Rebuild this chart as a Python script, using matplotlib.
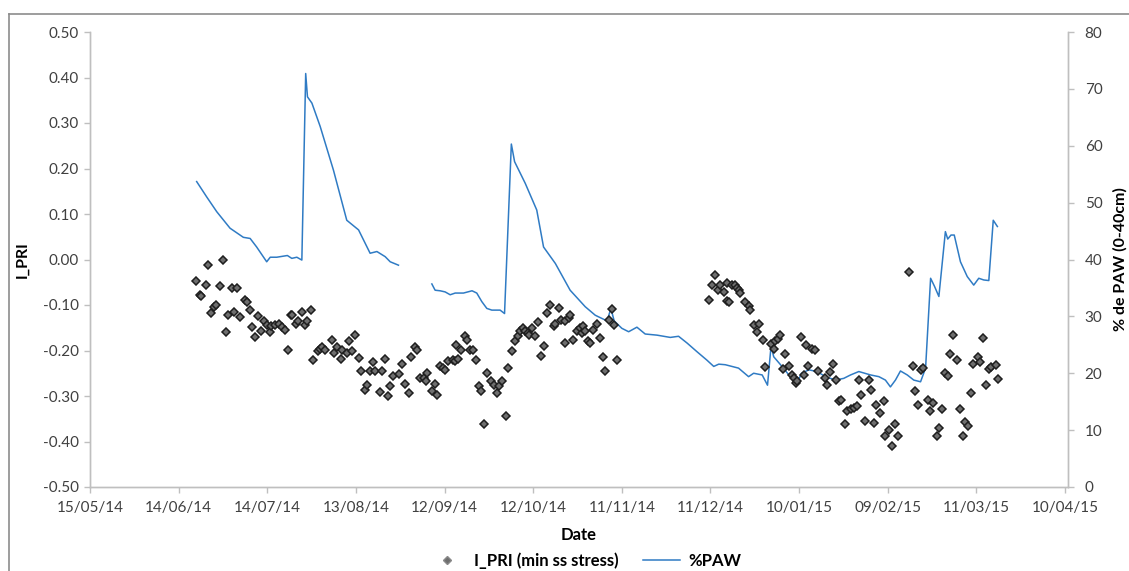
import numpy as np
import pandas as pd
import matplotlib
matplotlib.use("Agg")
import matplotlib.pyplot as plt
import matplotlib.dates as mdates
from matplotlib.lines import Line2D

plt.rcParams['font.family'] = ['Lato', 'DejaVu Sans']

start = pd.Timestamp('2014-05-15')

# I_PRI (min ss stress): day offset from 15/05/14, value
pri_day = [35.9, 37.3, 37.6, 39.2, 39.8, 41.0, 42.1, 42.7, 43.9, 44.9, 45.9, 46.8, 48.0, 48.9,
           49.9, 50.8, 52.5, 53.0, 54.0, 54.8, 55.9, 57.0, 57.9, 58.9, 59.8, 61.0, 61.3, 62.6,
           64.1, 65.1, 66.0, 66.9, 68.0, 68.5, 69.8, 70.5, 71.7, 72.8, 73.4, 74.8, 75.6, 77.0,
           77.9, 78.5, 79.6, 81.8, 82.6, 83.5, 84.9, 85.2, 86.9, 87.5, 88.6, 89.7, 90.9, 91.8,
           93.1, 93.7, 94.8, 95.7, 96.5, 98.0, 98.8, 99.9, 100.7, 101.6, 102.7, 104.6, 105.5,
           106.7, 107.8, 108.6, 110.1, 110.6, 111.8, 112.9, 113.8, 114.0, 115.7, 116.6, 117.4,
           118.3, 119.6, 120.2, 121.3, 122.8, 123.6, 124.0, 124.7, 125.6, 126.8, 127.5, 128.7,
           129.5, 130.6, 131.5, 132.4, 133.5, 134.5, 135.8, 136.9, 137.7, 138.3, 139.4, 140.8,
           141.4, 142.8, 143.7, 144.8, 145.6, 146.7, 147.3, 148.4, 148.7, 149.6, 150.7, 151.5,
           152.7, 153.5, 154.6, 155.8, 156.9, 157.5, 158.8, 159.5, 160.6, 160.9, 162.0, 162.5,
           163.6, 164.8, 165.9, 166.5, 167.0, 167.4, 168.7, 169.3, 170.4, 171.6, 172.5, 173.6,
           174.4, 175.5, 176.7, 177.4, 178.3,
           209.4, 210.5, 211.6, 212.6, 213.3, 214.5, 215.6, 215.7, 216.2, 217.4, 218.4, 219.1,
           219.5, 220.1, 221.8, 222.9, 223.5, 224.6, 225.8, 226.3, 227.7, 228.3, 230.6, 231.4,
           232.0, 232.9, 233.4, 234.4, 235.3, 236.5, 237.6, 238.2, 239.0, 239.3, 240.8, 241.5,
           242.4, 243.0, 244.2, 245.3, 246.4, 248.7, 249.5, 250.6, 251.4, 252.5, 253.4, 254.3,
           255.4, 256.2, 257.4, 258.5, 259.6, 260.2, 261.1, 262.2, 263.6, 264.4, 265.5, 266.1,
           267.4, 268.6, 269.2, 270.3, 271.5, 272.3, 273.4, 277.3, 278.5, 279.3, 280.4, 281.3,
           281.9, 283.5, 284.3, 285.2, 286.6, 287.3, 288.4, 289.5, 290.3, 291.2, 292.2, 293.4,
           294.5, 295.4, 296.3, 297.1, 298.2, 299.0, 300.5, 301.3, 302.2, 303.3, 304.4, 305.0,
           306.5, 307.2]
pri_val = [-0.048, -0.077, -0.080, -0.055, -0.013, -0.117, -0.104, -0.099, -0.059, 0.000, -0.160,
           -0.122, -0.062, -0.115, -0.062, -0.126, -0.088, -0.094, -0.110, -0.149, -0.171, -0.125,
           -0.158, -0.136, -0.143, -0.160, -0.147, -0.145, -0.142, -0.148, -0.154, -0.198, -0.121,
           -0.122, -0.141, -0.136, -0.116, -0.145, -0.136, -0.110, -0.221, -0.202, -0.196, -0.192,
           -0.199, -0.176, -0.205, -0.192, -0.218, -0.198, -0.205, -0.180, -0.201, -0.165, -0.216,
           -0.245, -0.286, -0.275, -0.245, -0.226, -0.245, -0.291, -0.245, -0.218, -0.300, -0.278,
           -0.255, -0.251, -0.229, -0.273, -0.293, -0.214, -0.192, -0.198, -0.260, -0.260, -0.267,
           -0.249, -0.289, -0.273, -0.297, -0.235, -0.238, -0.242, -0.223, -0.220, -0.223, -0.187,
           -0.218, -0.199, -0.169, -0.176, -0.199, -0.199, -0.220, -0.277, -0.289, -0.361, -0.249,
           -0.267, -0.275, -0.293, -0.278, -0.267, -0.343, -0.238, -0.200, -0.180, -0.169, -0.158,
           -0.150, -0.158, -0.161, -0.165, -0.150, -0.169, -0.138, -0.211, -0.190, -0.117, -0.101,
           -0.147, -0.141, -0.106, -0.132, -0.183, -0.136, -0.128, -0.121, -0.176, -0.158, -0.150,
           -0.161, -0.147, -0.158, -0.180, -0.183, -0.155, -0.141, -0.172, -0.214, -0.245, -0.133,
           -0.108, -0.143, -0.220,
           -0.090, -0.055, -0.035, -0.067, -0.055, -0.072, -0.092, -0.051, -0.094, -0.055, -0.055,
           -0.062, -0.066, -0.073, -0.094, -0.103, -0.110, -0.145, -0.160, -0.141, -0.177, -0.236,
           -0.185, -0.196, -0.180, -0.174, -0.167, -0.240, -0.207, -0.233, -0.253, -0.260, -0.271,
           -0.267, -0.171, -0.253, -0.187, -0.233, -0.196, -0.199, -0.245, -0.260, -0.275, -0.248,
           -0.229, -0.265, -0.311, -0.308, -0.362, -0.333, -0.328, -0.326, -0.322, -0.264, -0.297,
           -0.356, -0.264, -0.287, -0.360, -0.319, -0.338, -0.311, -0.387, -0.374, -0.409, -0.361,
           -0.387, -0.028, -0.233, -0.289, -0.319, -0.243, -0.238, -0.308, -0.333, -0.315, -0.389,
           -0.370, -0.328, -0.249, -0.256, -0.207, -0.165, -0.220, -0.328, -0.387, -0.358, -0.366,
           -0.293, -0.229, -0.214, -0.226, -0.172, -0.275, -0.240, -0.236, -0.231, -0.262]

# %PAW (0-40cm): day offset, value; NaN marks the gap in the record
paw_day = [36.1, 39.5, 42.9, 47.4, 51.9, 54.2, 56.4, 59.8, 61.0, 63.2, 66.8, 68.3, 70.0, 71.7,
           73.0, 73.6, 75.1, 77.9, 82.4, 86.9, 90.9, 94.8, 97.1, 99.9, 101.6, 104.4,
           110.0,
           115.7, 116.8, 118.5, 120.2, 121.9, 123.6, 126.4, 129.3, 130.9, 132.6, 134.3, 136.0,
           138.8, 140.3, 142.6, 143.7, 147.3, 151.2, 153.5, 157.5, 162.5, 167.6, 171.0, 175.0,
           176.3, 177.4, 180.0, 182.3, 185.1, 187.9, 191.9, 196.4, 199.2, 202.1, 205.4, 208.8,
           211.1, 212.8, 215.0, 219.5, 222.9, 224.6, 227.5, 229.3, 230.5, 231.4, 234.2, 237.0,
           239.3, 240.8, 243.3, 246.1, 248.9, 252.3, 255.1, 257.4, 260.2, 264.2, 267.0, 269.2,
           270.9, 272.6, 274.3, 276.6, 278.8, 281.1, 282.8, 284.5, 285.8, 287.3, 289.5, 290.3,
           291.4, 292.5, 294.6, 296.9, 299.1, 300.8, 302.5, 304.2, 305.7, 307.1]
paw_val = [53.7, 51.0, 48.4, 45.5, 43.9, 43.7, 42.2, 39.6, 40.4, 40.4, 40.7, 40.2, 40.4, 39.9,
           72.7, 68.6, 67.5, 63.4, 55.7, 46.9, 45.2, 41.1, 41.4, 40.5, 39.6, 39.0,
           np.nan,
           35.7, 34.6, 34.5, 34.3, 33.8, 34.1, 34.1, 34.5, 34.1, 32.6, 31.4, 31.1,
           31.1, 30.5, 60.3, 57.2, 53.4, 48.7, 42.2, 39.3, 34.6, 31.7, 30.2, 29.2,
           31.4, 29.2, 27.9, 27.3, 28.1, 26.9, 26.7, 26.3, 26.5, 25.3, 23.8, 22.3,
           21.2, 21.6, 21.5, 20.9, 19.4, 20.0, 19.7, 17.9, 24.8, 22.9, 21.2, 19.4,
           18.2, 20.0, 20.6, 20.3, 19.4, 18.8, 19.1, 19.7, 20.3, 19.7, 19.4, 18.8,
           17.6, 18.8, 20.4, 19.7, 18.8, 18.5, 20.9, 36.7, 35.3, 33.5, 44.9, 43.6,
           44.3, 44.3, 39.6, 37.0, 35.5, 36.7, 36.4, 36.3, 46.9, 45.8]

pri_dates = start + pd.to_timedelta(pri_day, unit='D')
paw_dates = start + pd.to_timedelta(paw_day, unit='D')

W, H = 1129, 571
fig = plt.figure(figsize=(W / 100, H / 100), dpi=100)
ax = fig.add_axes([90 / W, 1 - 487 / H, (1068 - 90) / W, (487 - 32) / H])
ax2 = ax.twinx()

ax.plot(pri_dates, pri_val, linestyle='none', marker='D', ms=4.2,
        mfc='#6e6e6e', mec='#1e1e1e', mew=1.1, label='I_PRI (min ss stress)', zorder=3)
ax2.plot(paw_dates, paw_val, color='#2f7bc4', lw=1.1, label='%PAW')
ax.set_zorder(ax2.get_zorder() + 1)
ax.patch.set_visible(False)

# axes ranges and ticks
tick_days = np.arange(0, 331, 30)
ticks = start + pd.to_timedelta(tick_days, unit='D')
ax.set_xlim(start, start + pd.Timedelta(days=331))
ax.set_xticks(ticks)
ax.xaxis.set_major_formatter(mdates.DateFormatter('%d/%m/%y'))
ax.set_ylim(-0.5, 0.5)
ax.set_yticks(np.round(np.arange(-0.5, 0.51, 0.1), 2))
ax.yaxis.set_major_formatter(plt.FuncFormatter(lambda v, p: f'{round(v, 2) + 0.0:.2f}'))
ax2.set_ylim(0, 80)
ax2.set_yticks(np.arange(0, 81, 10))

grey = '#bfbfbf'
txt = '#404040'
for a in (ax, ax2):
    a.spines['top'].set_visible(False)
    for s in ('left', 'right', 'bottom'):
        a.spines[s].set_color(grey)
        a.spines[s].set_linewidth(1.0)
    a.tick_params(colors=grey, labelcolor=txt, labelsize=11, length=4, width=1)
ax.tick_params(axis='x', pad=6)
ax.tick_params(axis='y', pad=4)
ax2.tick_params(axis='y', pad=8)

ax.set_ylabel('I_PRI', fontsize=11.5, fontweight='bold', color='black', labelpad=10)
ax2.set_ylabel('% de PAW (0-40cm)', fontsize=11.5, fontweight='bold', color='black', labelpad=8)
ax.set_xlabel('Date', fontsize=12, fontweight='bold', color='black', labelpad=9)

handles = [Line2D([], [], linestyle='none', marker='D', ms=4.2, mfc='#6e6e6e', mec='#8a8a8a'),
           Line2D([], [], color='#2f7bc4', lw=1.1)]
leg = fig.legend(handles, ['I_PRI (min ss stress)', '%PAW'], loc='center',
                 bbox_to_anchor=(585 / W, 1 - 561 / H), ncol=2, frameon=False,
                 fontsize=12, handlelength=2.2, columnspacing=1.5, handletextpad=0.5)
for t in leg.get_texts():
    t.set_fontweight('bold')

# chart area border (top and left edges visible in the frame)
fig.add_artist(Line2D([9 / W, 9 / W], [0, 1 - 14 / H], color='#8c8c8c', lw=1.2))
fig.add_artist(Line2D([9 / W, 1], [1 - 14 / H, 1 - 14 / H], color='#8c8c8c', lw=1.2))

fig.savefig('out.png', dpi=100)
